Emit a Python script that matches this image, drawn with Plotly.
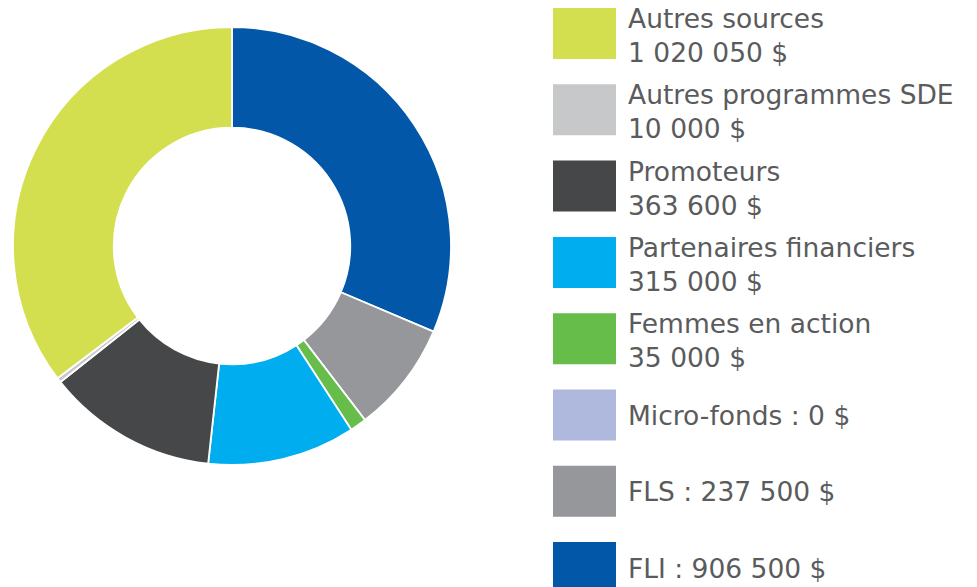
import plotly.graph_objects as go

labels = ["FLI", "FLS", "Micro-fonds", "Femmes en action", "Partenaires financiers",
          "Promoteurs", "Autres programmes SDE", "Autres sources"]
values = [906500, 237500, 0, 35000, 315000, 363600, 10000, 1020050]
colors = ["#0357A8", "#96979A", "#AEB9DD", "#67BD49", "#00AEEF",
          "#464749", "#C7C8CA", "#D3DF4E"]

legend_order = ["Autres sources", "Autres programmes SDE", "Promoteurs",
                "Partenaires financiers", "Femmes en action", "Micro-fonds", "FLS", "FLI"]
legend_texts = ["Autres sources<br>1 020 050 $", "Autres programmes SDE<br>10 000 $",
                "Promoteurs<br>363 600 $", "Partenaires financiers<br>315 000 $",
                "Femmes en action<br>35 000 $", "Micro-fonds : 0 $",
                "FLS : 237 500 $", "FLI : 906 500 $"]

W, H = 977, 587
OFF = 8  # page body margin offset


def px(x):
    return (x - OFF) / W


def py(y):
    return 1 - (y - OFF) / H


fig = go.Figure(go.Pie(
    labels=labels, values=values, sort=False, direction="clockwise", rotation=0,
    hole=0.54, marker=dict(colors=colors, line=dict(color="white", width=1.8)),
    textinfo="none", hoverinfo="label+value",
    domain=dict(x=[px(13), px(451)], y=[py(465), py(27)]),
))

shapes = []
annotations = []
step = 76.3
for i, (name, txt) in enumerate(zip(legend_order, legend_texts)):
    top = 8 + i * step
    bot = top + 51
    col = colors[labels.index(name)]
    shapes.append(dict(type="rect", xref="paper", yref="paper",
                       x0=px(553), x1=px(616), y0=py(bot), y1=py(top),
                       fillcolor=col, line=dict(width=0)))
    yc = top + 27.5 if "<br>" in txt else top + 26
    annotations.append(dict(text=txt, xref="paper", yref="paper",
                            x=px(626), y=py(yc), xanchor="left", yanchor="middle",
                            align="left", showarrow=False,
                            font=dict(family="DejaVu Sans", size=26.5, color="#5A5B5D")))

fig.update_layout(width=W, height=H, margin=dict(l=0, r=0, t=0, b=0),
                  paper_bgcolor="white", plot_bgcolor="white", showlegend=False,
                  shapes=shapes, annotations=annotations)

fig.write_html("out.html")
